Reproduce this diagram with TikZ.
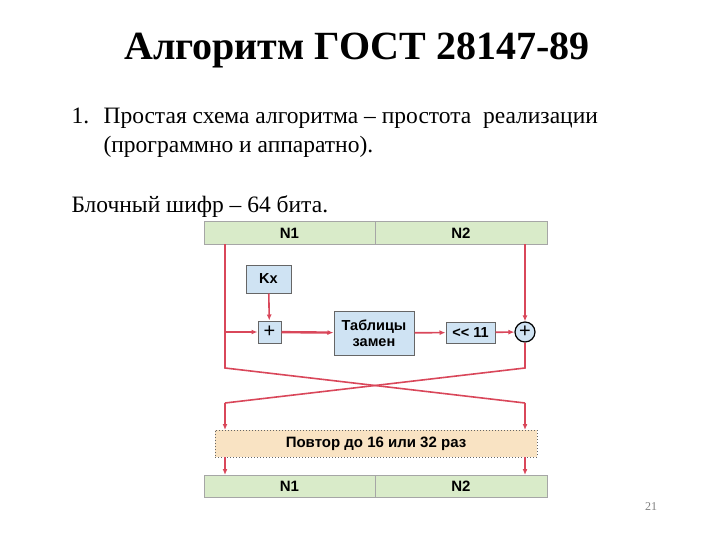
\documentclass[tikz,border=0pt]{standalone}
\usepackage{fontspec}
\setmainfont{Liberation Serif}
\newfontfamily\dsans{Liberation Sans}
\usetikzlibrary{arrows.meta}
\definecolor{rd}{HTML}{D9475A}
\definecolor{gr}{HTML}{D9EBC9}
\definecolor{bl}{HTML}{CFE3F3}
\definecolor{or}{HTML}{F9E3C3}
\begin{document}
\begin{tikzpicture}[x=1pt,y=-1pt,
  bar/.style={draw=gray!70,fill=gr,line width=1pt,minimum height=22pt,inner sep=0pt,font=\dsans\bfseries\fontsize{15}{16}\selectfont},
  blk/.style={draw=gray!80!black,fill=bl,line width=1pt,inner sep=0pt,font=\dsans\bfseries\fontsize{14.5}{16}\selectfont,align=center},
  ln/.style={draw=rd,line width=1.6pt},
  ar/.style={ln,-{Latex[length=6pt,width=5pt]}}]
\useasboundingbox (0,0) rectangle (720,540);
\node[font=\bfseries\fontsize{40}{46}\selectfont] (title) at (357,50) {Алгоритм ГОСТ 28147-89};
\node[anchor=base west,font=\fontsize{23.5}{26}\selectfont] (n1) at (68,124) {1.};
\node[anchor=base west,font=\fontsize{23.5}{26}\selectfont] (l1) at (100,124) {Простая схема алгоритма – простота\ \ реализации};
\node[anchor=base west,font=\fontsize{23.5}{26}\selectfont] (l2) at (100,153) {(программно и аппаратно).};
\node[anchor=base west,font=\fontsize{23.5}{26}\selectfont] (l3) at (68,212) {Блочный шифр – 64 бита.};
\node[bar,minimum width=171pt] (t1) at (289.5,233) {N1};
\node[bar,minimum width=172pt] (t2) at (461,233) {N2};
\node[bar,minimum width=171pt] (b1) at (289.5,486) {N1};
\node[bar,minimum width=172pt] (b2) at (461,486) {N2};
\node[blk,minimum width=45pt,minimum height=28pt] (kx) at (268.5,279) {Kx};
\node[blk,minimum width=23pt,minimum height=22pt,font=\dsans\fontsize{20}{20}\selectfont] (px) at (269.5,332) {\raisebox{-2.5pt}{+}};
\node[blk,minimum width=80pt,minimum height=44pt] (tab) at (374,333) {Таблицы\\замен};
\node[blk,minimum width=49pt,minimum height=21pt] (sh) at (470.5,332.5) {<< 11};
\node[circle,draw=black,line width=1.2pt,fill=bl,minimum size=20pt,inner sep=0pt,font=\dsans\fontsize{20}{20}\selectfont] (xo) at (525,332) {\raisebox{-2.5pt}{+}};
\node[draw=gray!80!black,dotted,line width=1pt,fill=or,minimum width=322pt,minimum height=27pt,inner sep=0pt,font=\dsans\bfseries\fontsize{15}{16}\selectfont] (rep) at (376,443.5) {Повтор до 16 или 32 раз};
\coordinate (a1) at (225,244);
\coordinate (a2) at (225,368);
\coordinate (a3) at (525,403);
\coordinate (c1) at (525,368);
\coordinate (c2) at (225,403);
\coordinate (tp) at (225,332);
\draw[ln] (a1) -- (a2) -- (a3);
\draw[ar] (a3) -- (525,430);
\draw[ln] (xo) -- (c1) -- (c2);
\draw[ar] (c2) -- (225,430);
\draw[ar] (525,244) -- (xo);
\draw[ar] (tp) -- (px);
\draw[ar] (kx) -- (px);
\draw[ar,line width=2.4pt] (px) -- (tab);
\draw[ar] (tab) -- (sh);
\draw[ar] (sh) -- (xo);
\draw[ar] (225,457) -- (225,475);
\draw[ar] (525,457) -- (525,475);
\node[text=gray,font=\fontsize{12}{14}\selectfont] (pg) at (651,507) {21};
\end{tikzpicture}
\end{document}
